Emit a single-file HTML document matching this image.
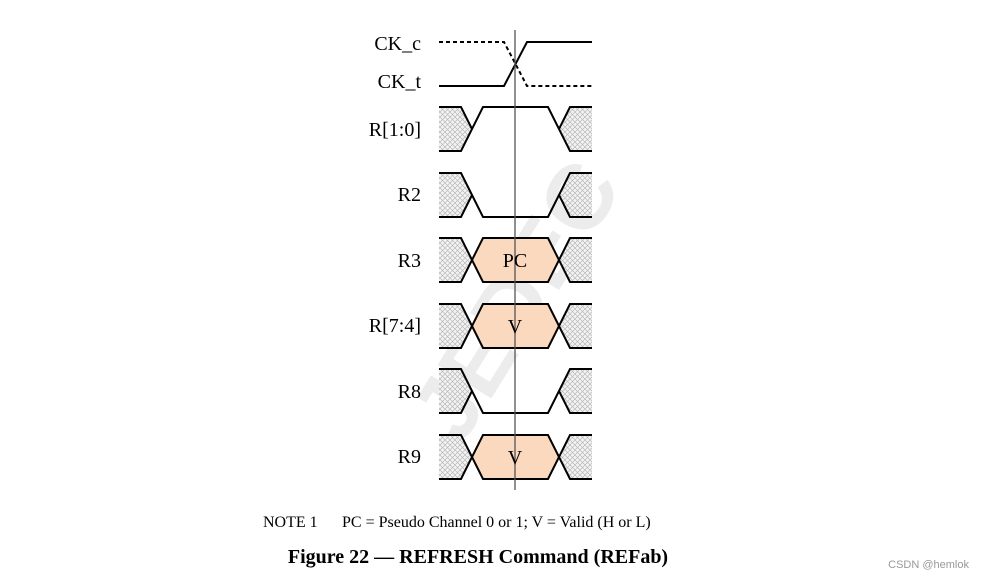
<!DOCTYPE html>
<html><head><meta charset="utf-8"><style>
body{margin:0;background:#fff;width:984px;height:579px;overflow:hidden}
svg{display:block}
text{font-family:"Liberation Serif",serif}
</style></head><body>
<svg width="984" height="579" viewBox="0 0 984 579">
<defs>
<pattern id="h" width="5" height="5" patternUnits="userSpaceOnUse">
<rect width="5" height="5" fill="#f4f4f4"/>
<path d="M0 0L5 5M5 0L0 5" stroke="#b8b8b8" stroke-width="0.7"/>
</pattern>
</defs>
<text x="0" y="0" transform="translate(515,300) rotate(-58)" text-anchor="middle" font-size="92" font-weight="bold" fill="#ececec" style="font-family:'Liberation Sans',sans-serif" dy="32">JEDEC</text>
<g font-size="20" fill="#000" text-anchor="end">
<text x="421" y="50">CK_c</text>
<text x="421" y="88">CK_t</text>
<text x="421" y="136">R[1:0]</text>
<text x="421" y="201">R2</text>
<text x="421" y="267">R3</text>
<text x="421" y="332">R[7:4]</text>
<text x="421" y="398">R8</text>
<text x="421" y="463">R9</text>
</g>
<g stroke="#000" stroke-width="2" fill="none">
<path d="M439 42H504L527 86H592" stroke-dasharray="4,3"/>
<path d="M439 86H504L527 42H592"/>
</g>
<!-- rows -->
<g stroke="#000" stroke-width="2">
<!-- R[1:0] high -->
<g transform="translate(0,107)">
<path d="M439 0H461L472 22L461 44H439Z" fill="url(#h)" stroke="none"/>
<path d="M592 0H570L559 22L570 44H592Z" fill="url(#h)" stroke="none"/>
<path d="M439 0H461L472 22M439 44H461L483 0H548L570 44H592M592 0H570L559 22" fill="none"/>
</g>
<!-- R2 low -->
<g transform="translate(0,173)">
<path d="M439 0H461L472 22L461 44H439Z" fill="url(#h)" stroke="none"/>
<path d="M592 0H570L559 22L570 44H592Z" fill="url(#h)" stroke="none"/>
<path d="M439 44H461L472 22M439 0H461L483 44H548L570 0H592M592 44H570L559 22" fill="none"/>
</g>
<!-- R8 low -->
<g transform="translate(0,369)">
<path d="M439 0H461L472 22L461 44H439Z" fill="url(#h)" stroke="none"/>
<path d="M592 0H570L559 22L570 44H592Z" fill="url(#h)" stroke="none"/>
<path d="M439 44H461L472 22M439 0H461L483 44H548L570 0H592M592 44H570L559 22" fill="none"/>
</g>
<!-- valid rows -->
<g id="v1" transform="translate(0,238)">
<path d="M439 0H461L472 22L461 44H439Z" fill="url(#h)" stroke="none"/>
<path d="M592 0H570L559 22L570 44H592Z" fill="url(#h)" stroke="none"/>
<path d="M472 22L483 0H548L559 22L548 44H483Z" fill="#fad9bf" stroke="none"/>
<path d="M439 0H461L483 44H548L570 0H592M439 44H461L483 0H548L570 44H592" fill="none"/>
</g>
<g transform="translate(0,304)">
<path d="M439 0H461L472 22L461 44H439Z" fill="url(#h)" stroke="none"/>
<path d="M592 0H570L559 22L570 44H592Z" fill="url(#h)" stroke="none"/>
<path d="M472 22L483 0H548L559 22L548 44H483Z" fill="#fad9bf" stroke="none"/>
<path d="M439 0H461L483 44H548L570 0H592M439 44H461L483 0H548L570 44H592" fill="none"/>
</g>
<g transform="translate(0,435)">
<path d="M439 0H461L472 22L461 44H439Z" fill="url(#h)" stroke="none"/>
<path d="M592 0H570L559 22L570 44H592Z" fill="url(#h)" stroke="none"/>
<path d="M472 22L483 0H548L559 22L548 44H483Z" fill="#fad9bf" stroke="none"/>
<path d="M439 0H461L483 44H548L570 0H592M439 44H461L483 0H548L570 44H592" fill="none"/>
</g>
</g>
<line x1="515" y1="30" x2="515" y2="490" stroke="#555" stroke-width="1.3"/>
<g font-size="20" text-anchor="middle" fill="#000">
<text x="515" y="267">PC</text>
<text x="515" y="333">V</text>
<text x="515" y="464">V</text>
</g>
<text x="263" y="527" font-size="16">NOTE 1</text>
<text x="342" y="527" font-size="16">PC = Pseudo Channel 0 or 1; V = Valid (H or L)</text>
<text x="478" y="563" font-size="20" font-weight="bold" text-anchor="middle">Figure 22 — REFRESH Command (REFab)</text>
<text x="969" y="568" font-size="11" fill="#999" text-anchor="end" style="font-family:'Liberation Sans',sans-serif">CSDN @hemlok</text>
</svg>
</body></html>
